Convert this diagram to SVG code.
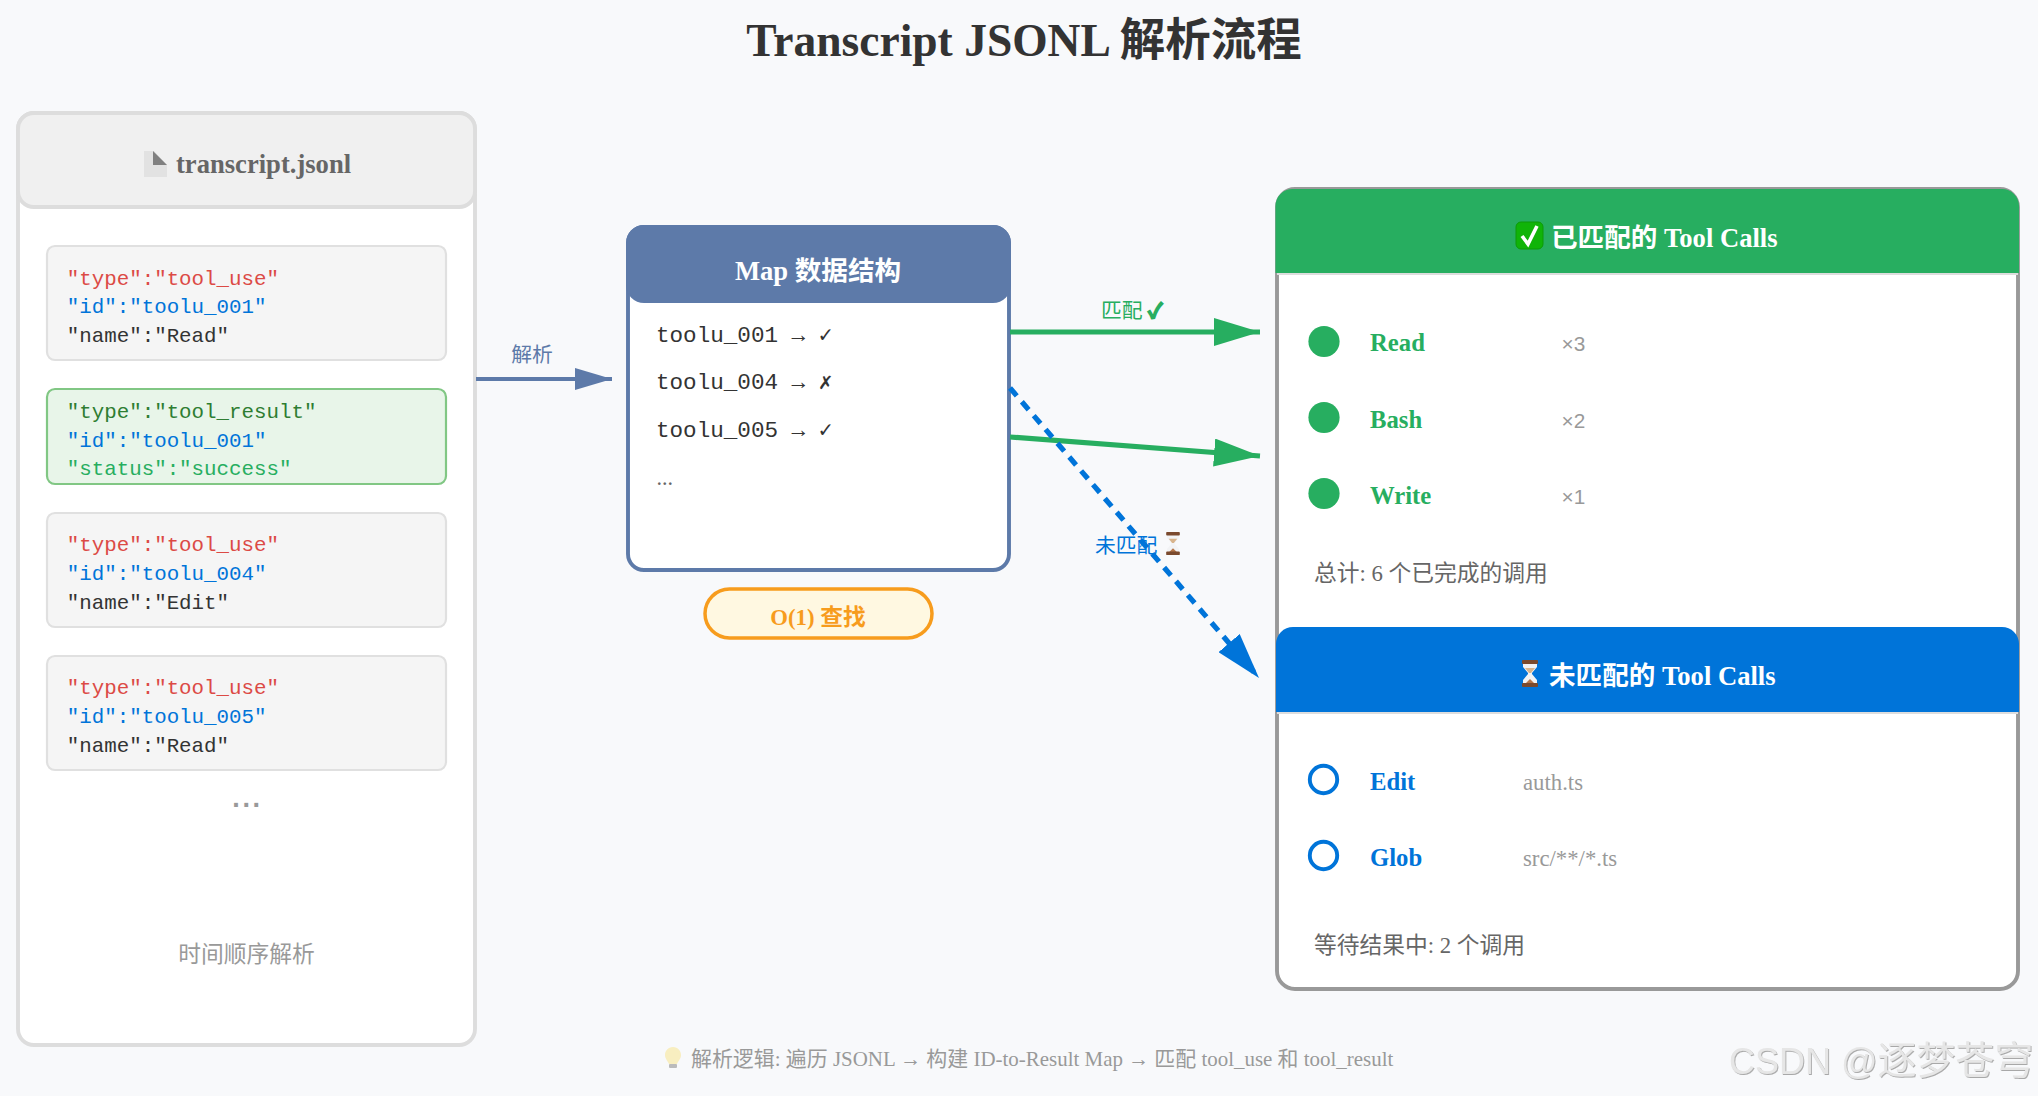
<svg xmlns="http://www.w3.org/2000/svg" width="2038" height="1096" viewBox="0 0 2038 1096">
<style>
text{font-family:"Liberation Serif","Noto Sans CJK SC",serif}
.m{font-family:"Liberation Mono","DejaVu Sans Mono",monospace;font-size:20.8px}
.mr{font-family:"Liberation Mono","DejaVu Sans Mono",monospace;font-size:22.6px;fill:#333}
.red{fill:#dc4a45}.blue{fill:#0074d9}.dark{fill:#333}.dg{fill:#2e7d32}.lg{fill:#27ae60}
.hd{font-size:26.6px;font-weight:700;fill:#fff}
.nm{font-size:24.7px;font-weight:700}
.sub{font-size:22.75px;fill:#999}
.cnt{font-family:"Liberation Sans",sans-serif;font-size:20.8px;fill:#999}
.tot{font-size:22.75px;fill:#666}
.lab{font-size:20.8px}
.entry{fill:#f5f5f5;stroke:#e0e0e0;stroke-width:2.2}
.c{stroke-width:5.2;fill:none}
</style>
<defs>
<marker id="ah-s" markerUnits="userSpaceOnUse" markerWidth="37" markerHeight="22" refX="37" refY="11" orient="auto"><path d="M0 0L37 11L0 22z" fill="#5d7aa9"/></marker>
<marker id="ah-g" markerUnits="userSpaceOnUse" markerWidth="46" markerHeight="28" refX="46" refY="14" orient="auto"><path d="M0 0L46 14L0 28z" fill="#27ae60"/></marker>
<marker id="ah-b" markerUnits="userSpaceOnUse" markerWidth="46" markerHeight="28" refX="46" refY="14" orient="auto"><path d="M0 0L46 14L0 28z" fill="#0074d9"/></marker>
<filter id="emboss" x="-5%" y="-10%" width="110%" height="125%"><feDropShadow dx="0.9" dy="1" stdDeviation="0.3" flood-color="#a8a8a8"/></filter>
<symbol id="hourglass" viewBox="0 0 18 27" overflow="visible">
<path d="M2 3L16 3L16 7L11 13L11 14L16 20L16 24L2 24L2 20L7 14L7 13L2 7z" fill="#f2f3f5"/>
<path d="M4 8L14 8L10 13L8 13z" fill="#d8b48c"/>
<path d="M4 24L9 19L14 24z" fill="#b5764a"/>
<rect x="1" y="0" width="16" height="4" rx="1" fill="#7a4a2e"/>
<rect x="1" y="23" width="16" height="4" rx="1" fill="#7a4a2e"/>
</symbol>
</defs>
<rect width="2038" height="1096" fill="#f8f9fb"/>
<text id="title" x="1024" y="56" text-anchor="middle" font-size="45.500" font-weight="700" fill="#333">Transcript JSONL 解析流程</text>

<g id="node-transcript">
<rect x="18" y="113" width="457" height="932" rx="16" fill="#fff" stroke="#ddd" stroke-width="3.9"/>
<rect x="18" y="113" width="457" height="94" rx="16" fill="#f0f0f0" stroke="#ddd" stroke-width="3.9"/>
<path d="M144 151H154L167 165V177H144z" fill="#e2e2e2"/><path d="M153 151L167 165H153z" fill="#808080"/>
<text x="176" y="173" font-size="26.600" font-weight="700" fill="#666">transcript.jsonl</text>
<text x="246.500" y="962" text-anchor="middle" class="sub">时间顺序解析</text>
<text x="247.500" y="807" text-anchor="middle" font-size="27" font-weight="700" letter-spacing="2.700" fill="#999" style="font-family:'Liberation Sans',sans-serif">...</text>
</g>
<g id="node-entry-1">
<rect class="entry" x="47" y="246" width="399" height="114" rx="8"/>
<text class="m red" x="66.800" y="285">"type":"tool_use"</text>
<text class="m blue" x="66.800" y="313">"id":"toolu_001"</text>
<text class="m dark" x="66.800" y="342">"name":"Read"</text>
</g>
<g id="node-entry-2">
<rect x="47" y="389" width="399" height="95" rx="8" fill="#e8f5e9" stroke="#81c784" stroke-width="2.2"/>
<text class="m dg" x="66.800" y="418">"type":"tool_result"</text>
<text class="m blue" x="66.800" y="447">"id":"toolu_001"</text>
<text class="m lg" x="66.800" y="475">"status":"success"</text>
</g>
<g id="node-entry-3">
<rect class="entry" x="47" y="513" width="399" height="114" rx="8"/>
<text class="m red" x="66.800" y="551">"type":"tool_use"</text>
<text class="m blue" x="66.800" y="580">"id":"toolu_004"</text>
<text class="m dark" x="66.800" y="609">"name":"Edit"</text>
</g>
<g id="node-entry-4">
<rect class="entry" x="47" y="656" width="399" height="114" rx="8"/>
<text class="m red" x="66.800" y="694">"type":"tool_use"</text>
<text class="m blue" x="66.800" y="723">"id":"toolu_005"</text>
<text class="m dark" x="66.800" y="752">"name":"Read"</text>
</g>

<g id="node-map">
<rect x="628" y="227" width="381" height="343" rx="16" fill="#fff" stroke="#5d7aa9" stroke-width="3.9"/>
<rect x="626" y="225" width="385" height="78" rx="18" fill="#5d7aa9"/>
<text class="hd" x="818" y="280" text-anchor="middle">Map 数据结构</text>
<text class="mr" x="656" y="342">toolu_001 → ✓</text>
<text class="mr" x="656" y="389">toolu_004 → ✗</text>
<text class="mr" x="656" y="437">toolu_005 → ✓</text>
<text x="656.500" y="485" font-size="22.100" fill="#666">...</text>
</g>
<g id="node-o1">
<rect x="705" y="589" width="227" height="49" rx="24.500" fill="#fff8e1" stroke="#f79c1d" stroke-width="3.500"/>
<text x="818" y="625" text-anchor="middle" font-size="22.750" font-weight="700" fill="#f79c1d">O(1) 查找</text>
</g>

<g id="node-matched">
<rect x="1277" y="189" width="741" height="800" rx="18" fill="#fff" stroke="#999" stroke-width="3.900"/>
<path d="M1275.500 273V206a17 17 0 0 1 17-17H2002a17 17 0 0 1 17 17V273z" fill="#27ae60"/>
<rect x="1277" y="273" width="741" height="2" fill="#ddd"/>
<g id="emoji-check"><rect x="1516" y="222" width="27" height="27" rx="5" fill="#10b408" stroke="#0c9a06"/><path d="M1522 236L1528 244L1537 226" fill="none" stroke="#fff" stroke-width="3.600"/></g>
<text class="hd" x="1551" y="247">已匹配的 Tool Calls</text>
<circle cx="1324" cy="341.500" r="15.600" fill="#27ae60"/>
<text class="nm lg" x="1370" y="351">Read</text><text class="cnt" x="1561.500" y="350.500">×3</text>
<circle cx="1324" cy="417.500" r="15.600" fill="#27ae60"/>
<text class="nm lg" x="1370" y="428">Bash</text><text class="cnt" x="1561.500" y="427.500">×2</text>
<circle cx="1324" cy="493.500" r="15.600" fill="#27ae60"/>
<text class="nm lg" x="1370" y="504">Write</text><text class="cnt" x="1561.500" y="503.500">×1</text>
<text class="tot" x="1314" y="581">总计: 6 个已完成的调用</text>
</g>
<g id="node-unmatched">
<path d="M1276 712V644a17 17 0 0 1 17-17H2002a17 17 0 0 1 17 17V712z" fill="#0074d9"/>
<rect x="1277" y="712" width="741" height="2" fill="#ddd"/>
<use href="#hourglass" x="1521" y="660" width="18" height="27"/>
<text class="hd" x="1549" y="685">未匹配的 Tool Calls</text>
<circle cx="1323.500" cy="779.500" r="13.700" fill="none" stroke="#0074d9" stroke-width="3.900"/>
<text class="nm blue" x="1370" y="790">Edit</text><text class="sub" x="1523" y="790">auth.ts</text>
<circle cx="1323.500" cy="855.500" r="13.700" fill="none" stroke="#0074d9" stroke-width="3.900"/>
<text class="nm blue" x="1370" y="866">Glob</text><text class="sub" x="1523" y="866">src/**/*.ts</text>
<text class="tot" x="1314" y="953">等待结果中: 2 个调用</text>
</g>

<g id="connectors">
<line x1="476" y1="379" x2="612" y2="379" stroke="#5d7aa9" stroke-width="3.900" marker-end="url(#ah-s)"/>
<line class="c" x1="1010" y1="332" x2="1260" y2="332" stroke="#27ae60" marker-end="url(#ah-g)"/>
<line class="c" x1="1010" y1="437" x2="1260" y2="456" stroke="#27ae60" marker-end="url(#ah-g)"/>
<line class="c" x1="1010" y1="388" x2="1259" y2="678" stroke="#0074d9" stroke-dasharray="10.400 7.800" marker-end="url(#ah-b)"/>
<text class="lab" x="532" y="362" text-anchor="middle" fill="#5d7aa9">解析</text>
<text class="lab lg" x="1101" y="318">匹配 <tspan stroke="#27ae60" stroke-width="1.400" font-weight="700">✓</tspan></text>
<text class="lab blue" x="1095" y="553">未匹配</text>
<use href="#hourglass" x="1165" y="532" width="16" height="23"/>
</g>

<g id="footer">
<path d="M673 1047c-5 0-8 4-8 8 0 4 3 6 4 9h8c1-3 4-5 4-9 0-4-3-8-8-8z" fill="#f8eec0"/><rect x="669" y="1064" width="8" height="4" rx="1" fill="#bbb"/>
<text x="691" y="1066" font-size="20.950" fill="#999">解析逻辑: 遍历 JSONL → 构建 ID-to-Result Map → 匹配 tool_use 和 tool_result</text>
</g>
<text id="watermark" x="1729" y="1074" fill="#e6e6e6" font-size="39" filter="url(#emboss)" style="font-family:'Liberation Sans','Noto Sans CJK SC',sans-serif"><tspan font-size="36">CSDN @</tspan>逐梦苍穹</text>
</svg>
